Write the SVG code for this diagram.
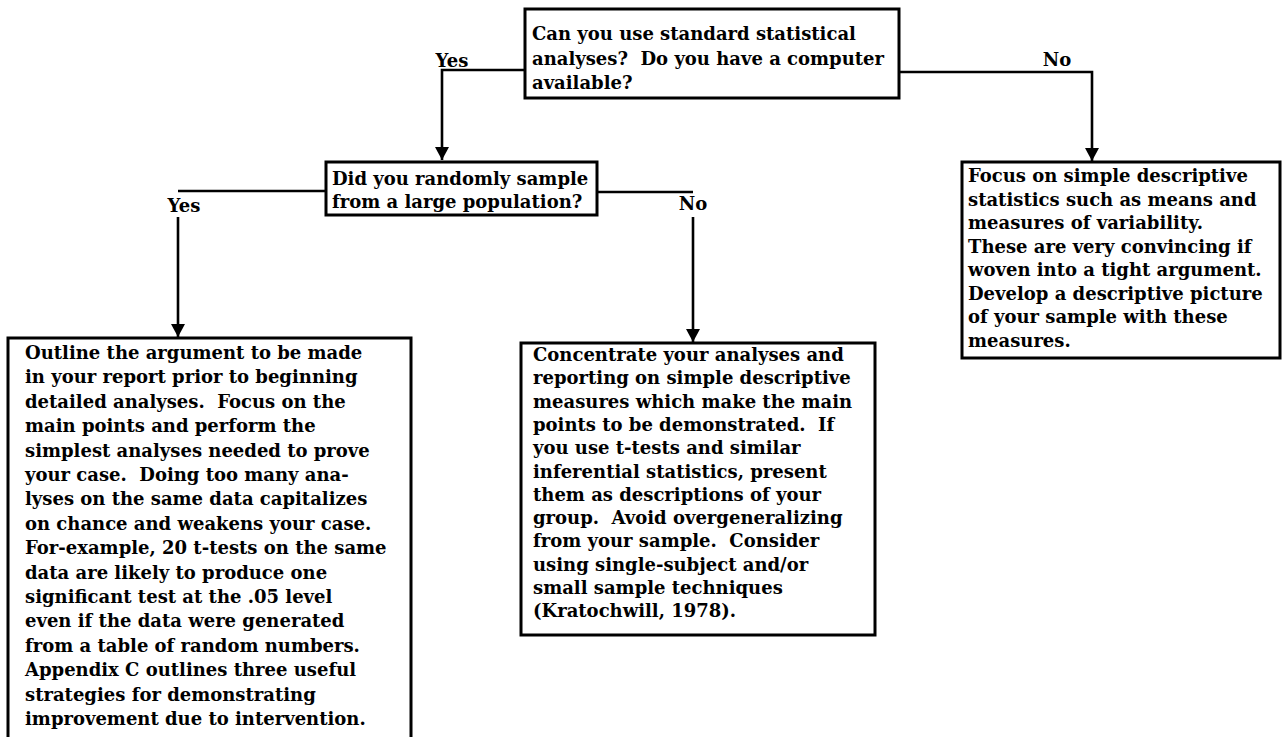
<svg xmlns="http://www.w3.org/2000/svg" width="1285" height="737" viewBox="0 0 1285 737">
<defs>
<marker id="arr" markerUnits="userSpaceOnUse" markerWidth="14" markerHeight="14" refX="13" refY="7" orient="auto">
<path d="M0,0 L13,7 L0,14 Z" fill="#000"/>
</marker>
<style>
.box{fill:#fff;stroke:#000;stroke-width:3}
.t{font-family:"DejaVu Serif","Liberation Serif",serif;font-weight:bold;font-size:18px;fill:#000}
.c{fill:none;stroke:#000;stroke-width:2.6}
</style>
</defs>
<rect width="1285" height="737" fill="#fff"/>
<g id="connectors">
<polyline class="c" points="525,70 442,70 442,160" marker-end="url(#arr)"/>
<polyline class="c" points="899,72 1092,72 1092,161" marker-end="url(#arr)"/>
<polyline class="c" points="326,191 178,191"/>
<line class="c" x1="178" y1="217" x2="178" y2="337" marker-end="url(#arr)"/>
<polyline class="c" points="597,192 693,192"/>
<line class="c" x1="693" y1="217" x2="693" y2="342" marker-end="url(#arr)"/>
<text class="t" x="452" y="67" text-anchor="middle">Yes</text>
<text class="t" x="1057" y="66" text-anchor="middle">No</text>
<text class="t" x="184" y="212" text-anchor="middle">Yes</text>
<text class="t" x="693" y="210" text-anchor="middle">No</text>
</g>
<g id="q1">
<rect class="box" x="525" y="9" width="374" height="89"/>
<text class="t" x="532" y="40">Can you use standard statistical</text>
<text class="t" x="532" y="65">analyses?&#160; Do you have a computer</text>
<text class="t" x="532" y="89">available?</text>
</g>
<g id="q2">
<rect class="box" x="326" y="162" width="271" height="53"/>
<text class="t" x="332" y="185">Did you randomly sample</text>
<text class="t" x="332" y="208">from a large population?</text>
</g>
<g id="a-no">
<rect class="box" x="962" y="162" width="318" height="196"/>
<text class="t" x="968" y="182">Focus on simple descriptive</text>
<text class="t" x="968" y="205.5">statistics such as means and</text>
<text class="t" x="968" y="229">measures of variability.</text>
<text class="t" x="968" y="252.5">These are very convincing if</text>
<text class="t" x="968" y="276">woven into a tight argument.</text>
<text class="t" x="968" y="299.5">Develop a descriptive picture</text>
<text class="t" x="968" y="323">of your sample with these</text>
<text class="t" x="968" y="346.5">measures.</text>
</g>
<g id="a-yes-yes">
<rect class="box" x="8" y="338" width="403" height="410"/>
<text class="t" x="25" y="359">Outline the argument to be made</text>
<text class="t" x="25" y="383.4">in your report prior to beginning</text>
<text class="t" x="25" y="407.8">detailed analyses.&#160; Focus on the</text>
<text class="t" x="25" y="432.2">main points and perform the</text>
<text class="t" x="25" y="456.6">simplest analyses needed to prove</text>
<text class="t" x="25" y="481">your case.&#160; Doing too many ana-</text>
<text class="t" x="25" y="505.4">lyses on the same data capitalizes</text>
<text class="t" x="25" y="529.8">on chance and weakens your case.</text>
<text class="t" x="25" y="554.2">For-example, 20 t-tests on the same</text>
<text class="t" x="25" y="578.6">data are likely to produce one</text>
<text class="t" x="25" y="603">significant test at the .05 level</text>
<text class="t" x="25" y="627.4">even if the data were generated</text>
<text class="t" x="25" y="651.8">from a table of random numbers.</text>
<text class="t" x="25" y="676.2">Appendix C outlines three useful</text>
<text class="t" x="25" y="700.6">strategies for demonstrating</text>
<text class="t" x="25" y="725">improvement due to intervention.</text>
</g>
<g id="a-yes-no">
<rect class="box" x="521" y="343" width="354" height="292"/>
<text class="t" x="533" y="361">Concentrate your analyses and</text>
<text class="t" x="533" y="384.3">reporting on simple descriptive</text>
<text class="t" x="533" y="407.6">measures which make the main</text>
<text class="t" x="533" y="430.9">points to be demonstrated.&#160; If</text>
<text class="t" x="533" y="454.2">you use t-tests and similar</text>
<text class="t" x="533" y="477.5">inferential statistics, present</text>
<text class="t" x="533" y="500.8">them as descriptions of your</text>
<text class="t" x="533" y="524.1">group.&#160; Avoid overgeneralizing</text>
<text class="t" x="533" y="547.4">from your sample.&#160; Consider</text>
<text class="t" x="533" y="570.7">using single-subject and/or</text>
<text class="t" x="533" y="594">small sample techniques</text>
<text class="t" x="533" y="617.3">(Kratochwill, 1978).</text>
</g>
</svg>
